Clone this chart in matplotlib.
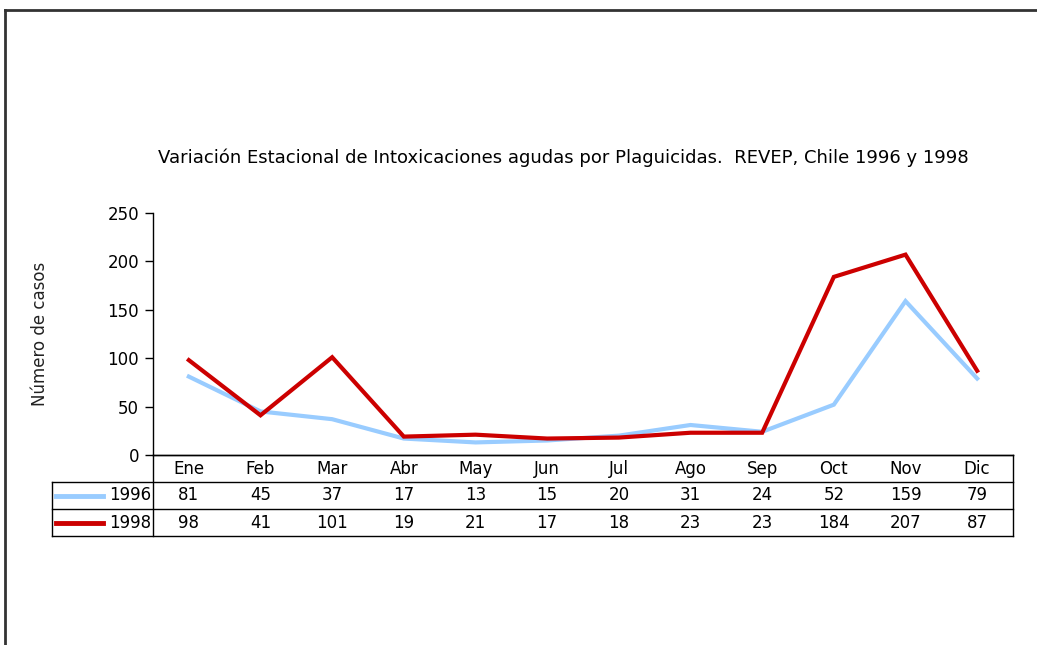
import matplotlib
matplotlib.use("Agg")
import matplotlib.pyplot as plt
from matplotlib.lines import Line2D
from matplotlib.transforms import blended_transform_factory

months = ["Ene", "Feb", "Mar", "Abr", "May", "Jun", "Jul", "Ago", "Sep", "Oct", "Nov", "Dic"]
series_names = ["1996", "1998"]
values_1996 = [81, 45, 37, 17, 13, 15, 20, 31, 24, 52, 159, 79]
values_1998 = [98, 41, 101, 19, 21, 17, 18, 23, 23, 184, 207, 87]
yticks = [0, 50, 100, 150, 200, 250]

colors = ["#99CCFF", "#CC0000"]
FONT = "DejaVu Sans"

W, H = 1037, 645
fig = plt.figure(figsize=(W / 100, H / 100), dpi=100)

def fx(px):
    return px / W

def fy(py):
    return 1 - py / H

ax = fig.add_axes([fx(153), fy(455), fx(1013) - fx(153), fy(213) - fy(455)])
x = list(range(len(months)))
ax.plot(x, values_1996, color=colors[0], lw=3.0, solid_joinstyle="miter", zorder=3)
ax.plot(x, values_1998, color=colors[1], lw=3.0, solid_joinstyle="miter", zorder=4)
ax.set_xlim(-0.5, len(months) - 0.5)
ax.set_ylim(0, 250)
ax.set_yticks(yticks)
ax.set_yticklabels([str(t) for t in yticks], fontfamily=FONT, fontsize=12)
ax.set_xticks([])
for s in ["top", "right"]:
    ax.spines[s].set_visible(False)
ax.spines["left"].set_linewidth(1.0)
ax.spines["bottom"].set_linewidth(1.0)
ax.tick_params(axis="y", direction="out", length=6, width=1.0, pad=4)
ax.set_ylabel("Número de casos", fontfamily=FONT, fontsize=12, labelpad=42, color="#222222")

fig.text(fx(563), fy(158), "Variación Estacional de Intoxicaciones agudas por Plaguicidas.  REVEP, Chile 1996 y 1998",
         ha="center", va="center", fontfamily=FONT, fontsize=13)

# data table
tr = blended_transform_factory(ax.transData, fig.transFigure)
row_y = [fy(469), fy(495.5), fy(522.5)]
for i, m in enumerate(months):
    fig.text(i, row_y[0], m, transform=tr, ha="center", va="center", fontfamily=FONT, fontsize=12)
    fig.text(i, row_y[1], str(values_1996[i]), transform=tr, ha="center", va="center", fontfamily=FONT, fontsize=12)
    fig.text(i, row_y[2], str(values_1998[i]), transform=tr, ha="center", va="center", fontfamily=FONT, fontsize=12)

lk = dict(color="black", lw=1.0, transform=fig.transFigure)
fig.add_artist(Line2D([fx(52), fx(1013)], [fy(482), fy(482)], **lk))
fig.add_artist(Line2D([fx(52), fx(1013)], [fy(509), fy(509)], **lk))
fig.add_artist(Line2D([fx(52), fx(1013)], [fy(536), fy(536)], **lk))
fig.add_artist(Line2D([fx(153), fx(1013)], [fy(455), fy(455)], **lk))
fig.add_artist(Line2D([fx(52), fx(52)], [fy(482), fy(536)], **lk))
fig.add_artist(Line2D([fx(153), fx(153)], [fy(455), fy(536)], **lk))
fig.add_artist(Line2D([fx(1013), fx(1013)], [fy(455), fy(536)], **lk))

for k, name in enumerate(series_names):
    yy = row_y[k + 1]
    fig.add_artist(Line2D([fx(56), fx(103)], [yy, yy], color=colors[k], lw=3.5, transform=fig.transFigure))
    fig.text(fx(151), yy, name, ha="right", va="center", fontfamily=FONT, fontsize=12)

# outer frame (top and left)
fk = dict(color="#333333", lw=2.0, transform=fig.transFigure)
fig.add_artist(Line2D([fx(5), fx(1037)], [fy(10), fy(10)], **fk))
fig.add_artist(Line2D([fx(5), fx(5)], [fy(10), fy(645)], **fk))

fig.savefig("out.png", dpi=100)
